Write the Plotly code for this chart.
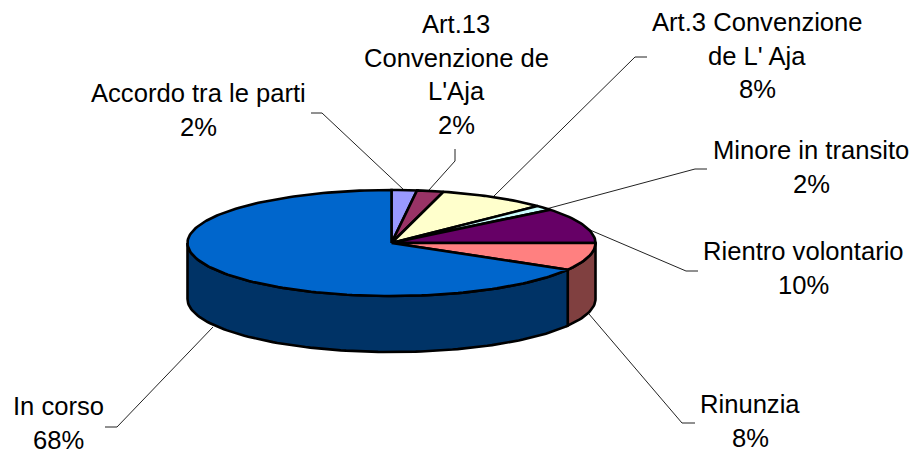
import math
import plotly.graph_objects as go

# Data (shares; labels as printed)
categories = ["Accordo tra le parti", "Art.13 Convenzione de L'Aja", "Art.3 Convenzione de L' Aja",
              "Minore in transito", "Rientro volontario", "Rinunzia", "In corso"]
shares = [2.0, 2.1, 8.6, 1.5, 10.8, 8.4, 66.6]
percent_labels = ["2%", "2%", "8%", "2%", "10%", "8%", "68%"]

# Styles
top_colors = ["#9999FF", "#993366", "#FFFFCC", "#CCFFFF", "#660066", "#FF8080", "#0066CC"]
side_colors = ["#4D4D80", "#4D1A33", "#808066", "#668080", "#330033", "#804040", "#003366"]
label_lines = [["Accordo tra le parti"], ["Art.13", "Convenzione de", "L'Aja"], ["Art.3 Convenzione", "de L' Aja"],
               ["Minore in transito"], ["Rientro volontario"], ["Rinunzia"], ["In corso"]]
label_x = [198, 456, 757, 811, 803, 750, 58]
label_y = [93, 24, 22, 150, 251, 404, 406]
line_step = 33.5
leaders = [
    [(404, 190), (322, 113), (311, 113)],
    [(429, 190), (455, 161), (455, 149)],
    [(493, 197), (635, 57), (647, 57)],
    [(546, 209), (695, 169), (707, 169)],
    [(590, 230), (686, 271), (698, 271)],
    [(589, 314), (682, 423), (695, 423)],
    [(213, 327), (117, 427), (105, 427)],
]

# Pie geometry
CX, CY, RX, RY, DEPTH = 391.5, 243, 204, 53, 56
EDGE = dict(color="black", width=2.6)


def edge(theta_deg, drop=0):
    t = math.radians(theta_deg)
    return CX + RX * math.sin(t), CY - RY * math.cos(t) + drop


def arc(a, b, drop=0):
    n = max(2, int(abs(b - a) / 1.5) + 1)
    return [edge(a + (b - a) * i / (n - 1), drop) for i in range(n)]


total = sum(shares)
bounds = [0.0]
for s in shares:
    bounds.append(bounds[-1] + s / total * 360)

fig = go.Figure()


def poly(points, color):
    xs = [p[0] for p in points] + [points[0][0]]
    ys = [p[1] for p in points] + [points[0][1]]
    fig.add_trace(go.Scatter(x=xs, y=ys, mode="lines", fill="toself", fillcolor=color,
                             line=EDGE, hoverinfo="skip", showlegend=False))


# Leader lines first (beneath the pie)
for pts in leaders:
    fig.add_trace(go.Scatter(x=[p[0] for p in pts], y=[p[1] for p in pts], mode="lines",
                             line=dict(color="#222222", width=1), hoverinfo="skip", showlegend=False))

# Visible side walls (front half: 90..270 degrees)
for i in range(len(shares)):
    a, b = max(bounds[i], 90), min(bounds[i + 1], 270)
    if b > a:
        poly(arc(a, b) + arc(b, a, DEPTH), side_colors[i])

# Top faces
for i in range(len(shares)):
    poly([(CX, CY)] + arc(bounds[i], bounds[i + 1]), top_colors[i])

# Labels
annotations = []
for lines, pct, x, y in zip(label_lines, percent_labels, label_x, label_y):
    for j, text in enumerate(lines + [pct]):
        annotations.append(dict(x=x, y=y + j * line_step, text=text, showarrow=False,
                                xref="x", yref="y", xanchor="center", yanchor="middle",
                                font=dict(family="Liberation Sans, Arial, sans-serif", size=25.6, color="black")))

# The page adds an 8 px body margin, so the figure covers page pixels 8..919 / 8..454
fig.update_layout(
    width=911, height=446, margin=dict(l=0, r=0, t=0, b=0),
    paper_bgcolor="white", plot_bgcolor="white", showlegend=False,
    xaxis=dict(range=[8, 919], visible=False, fixedrange=True),
    yaxis=dict(range=[454, 8], visible=False, fixedrange=True),
    annotations=annotations,
)
fig.write_html("out.html", config={"displayModeBar": False})
